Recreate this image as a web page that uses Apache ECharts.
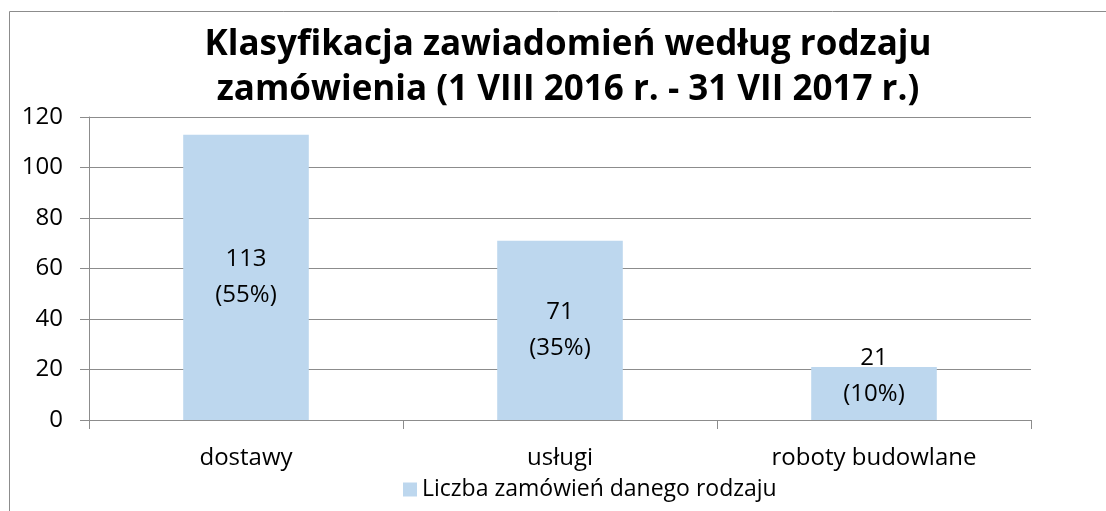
<!DOCTYPE html>
<html>
<head>
<meta charset="utf-8">
<script src="https://cdn.jsdelivr.net/npm/echarts@6/dist/echarts.min.js"></script>
<style>
  html, body { margin: 0; padding: 0; background: #fff; }
  #chart { width: 1106px; height: 511px; }
</style>
</head>
<body>
<div id="chart"></div>
<script>
const categories = ['dostawy', 'usługi', 'roboty budowlane']
const counts = [113, 71, 21]
const shares = ['55%', '35%', '10%']
const seriesName = 'Liczba zamówień danego rodzaju'
const titleText = 'Klasyfikacja zawiadomień według rodzaju\nzamówienia (1 VIII 2016 r. - 31 VII 2017 r.)'

const font = 'Open Sans'

const chart = echarts.init(document.getElementById('chart'))
chart.setOption({
  animation: false,
  textStyle: { fontFamily: font },
  title: {
    text: titleText,
    left: 563,
    textAlign: 'center',
    top: 18,
    textStyle: {
      fontFamily: font,
      fontSize: 35,
      fontWeight: 'bold',
      color: '#000',
      lineHeight: 45
    }
  },
  graphic: [
    {
      type: 'rect',
      shape: { x: 9.5, y: 11.5, width: 1200, height: 600 },
      style: { fill: 'none', stroke: '#8c8c8c', lineWidth: 1 },
      silent: true
    }
  ],
  legend: {
    bottom: 5,
    left: 398,
    itemWidth: 14,
    itemHeight: 14,
    itemGap: 6,
    icon: 'rect',
    textStyle: { fontFamily: font, fontSize: 23, color: '#000' },
    data: [seriesName]
  },
  grid: {
    left: 89,
    right: 75,
    top: 117,
    bottom: 91
  },
  xAxis: {
    type: 'category',
    data: categories,
    axisLine: { lineStyle: { color: '#8c8c8c', width: 1 } },
    axisTick: { show: true, length: 9, lineStyle: { color: '#8c8c8c' } },
    axisLabel: { fontFamily: font, fontSize: 24, color: '#000', margin: 26 }
  },
  yAxis: {
    type: 'value',
    min: 0,
    max: 120,
    interval: 20,
    axisLine: { show: true, lineStyle: { color: '#8c8c8c', width: 1 } },
    axisTick: { show: true, length: 9, lineStyle: { color: '#8c8c8c' } },
    splitLine: { lineStyle: { color: '#8c8c8c', width: 1 } },
    axisLabel: { fontFamily: font, fontSize: 24, color: '#000', margin: 26 }
  },
  series: [
    {
      name: seriesName,
      type: 'bar',
      barWidth: '40%',
      itemStyle: { color: '#bdd7ee' },
      data: counts.map((v, i) => ({
        value: v,
        label: i === 2 ? { offset: [0, -17] } : {}
      })),
      label: {
        show: true,
        position: 'inside',
        fontFamily: font,
        fontSize: 24,
        lineHeight: 36,
        color: '#000',
        formatter: (p) => `${p.value}\n(${shares[p.dataIndex]})`
      }
    }
  ]
})
</script>
</body>
</html>
